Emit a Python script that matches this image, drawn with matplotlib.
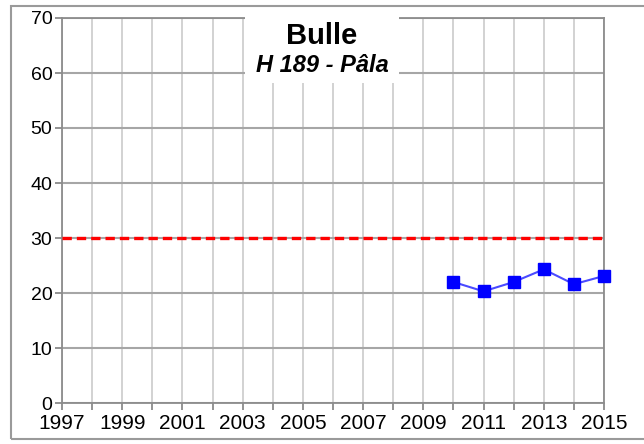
import numpy as np
import matplotlib.pyplot as plt
from matplotlib.patches import Rectangle

plt.rcParams['font.family'] = ['Liberation Sans', 'DejaVu Sans']

# data
years = [2010, 2011, 2012, 2013, 2014, 2015]
values = [22.0, 20.3, 22.0, 24.3, 21.6, 23.1]
limit_value = 30
x_ticks = list(range(1997, 2016))
x_labels = [str(y) if (y - 1997) % 2 == 0 else '' for y in x_ticks]
y_ticks = list(range(0, 71, 10))
title = 'Bulle'
subtitle = 'H 189 - Pâla'

fig = plt.figure(figsize=(6.44, 4.44), dpi=100)
W, H = 644, 444
ax = fig.add_axes([62 / W, 1 - 403 / H, (604 - 62) / W, (403 - 18) / H])

# outer frame of the picture
fig.patches.append(Rectangle((11 / W, 1 - 439 / H), 1.2, (439 - 6) / H,
                             transform=fig.transFigure, fill=False,
                             edgecolor='#9a9a9a', lw=1.5))

ax.set_xlim(1997, 2015)
ax.set_ylim(0, 70)
ax.set_xticks(x_ticks)
ax.set_xticklabels(x_labels, fontsize=15)
ax.set_yticks(y_ticks)
ax.set_yticklabels([str(v) for v in y_ticks], fontsize=14)
ax.tick_params(length=5, width=1.2, color='#808080', pad=2)
ax.tick_params(axis='x', pad=3)

for y in y_ticks:
    ax.axhline(y, color='#a6a6a6', lw=1.5, zorder=1)
for x in x_ticks:
    ax.axvline(x, color='#cfcfcf', lw=1.3, zorder=0.9)
for s in ax.spines.values():
    s.set_color('#8c8c8c')
    s.set_linewidth(1.3)

ax.axhline(limit_value, color='#ff0000', lw=2.4, ls=(0, (2.8, 1.5)), zorder=3)
ax.plot(years, values, color='#4a4aff', lw=1.5, zorder=4, clip_on=False)
ax.plot(years, values, ls='none', marker='s', ms=8, color='#0000ff', zorder=5,
        clip_on=False)

# title box covering the grid
fig.patches.append(Rectangle((245 / W, 1 - 83 / H), (399 - 245) / W, (83 - 16) / H,
                             transform=fig.transFigure, facecolor='white',
                             edgecolor='none', zorder=10))
fig.text(322 / W, 1 - 36 / H, title, fontsize=21, fontweight='bold',
         ha='center', va='center', zorder=11)
fig.text(322 / W, 1 - 66 / H, subtitle, fontsize=17, fontweight='bold',
         style='italic', ha='center', va='center', zorder=11)

fig.savefig('out.png', dpi=100)
